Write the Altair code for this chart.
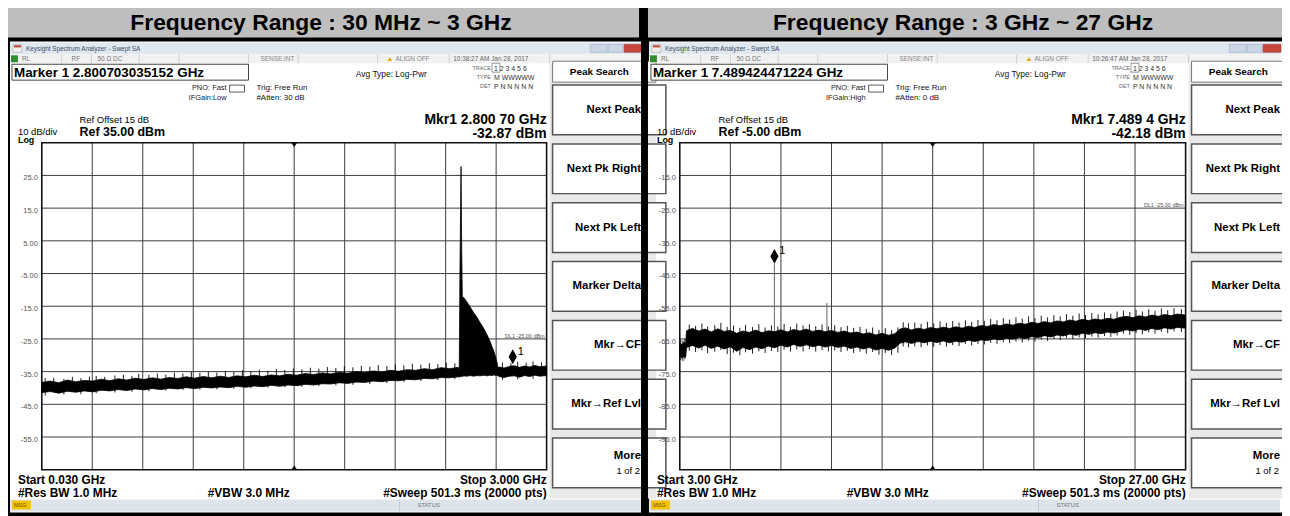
import altair as alt
import pandas as pd

# ------------------------------------------------------------------ data
TITLES = ["Frequency Range : 30 MHz ~ 3 GHz", "Frequency Range : 3 GHz ~ 27 GHz"]

L_FREQ = [0.03, 0.08, 0.13, 0.18, 0.23, 0.28, 0.33, 0.38, 0.43, 0.48, 0.53, 0.58, 0.63, 0.68, 0.73,
          0.78, 0.83, 0.88, 0.93, 0.98, 1.03, 1.08, 1.13, 1.18, 1.23, 1.28, 1.33, 1.38, 1.43, 1.48,
          1.53, 1.58, 1.63, 1.68, 1.73, 1.78, 1.83, 1.88, 1.93, 1.98, 2.03, 2.08, 2.13, 2.18, 2.23,
          2.28, 2.33, 2.38, 2.43, 2.48,
          2.486, 2.490, 2.4935, 2.4965, 2.5005, 2.504, 2.513, 2.53, 2.55, 2.571, 2.59, 2.608, 2.63,
          2.649, 2.665, 2.678, 2.69, 2.70, 2.707, 2.715,
          2.72, 2.75, 2.78, 2.81, 2.84, 2.87, 2.90, 2.93, 2.96, 3.0]
L_HI = [-38.3, -37.9, -38.4, -37.6, -38.1, -37.7, -37.9, -37.3, -37.8, -37.2, -37.6, -37.0, -37.4,
        -36.9, -37.3, -36.8, -37.1, -36.6, -37.0, -36.5, -36.9, -36.4, -36.8, -36.3, -36.6, -36.1,
        -36.5, -36.0, -36.3, -35.8, -36.1, -35.6, -35.9, -35.4, -35.7, -35.2, -35.5, -35.0, -35.3,
        -34.8, -35.1, -34.6, -34.9, -34.4, -34.6, -34.1, -34.4, -33.8, -34.1, -33.7,
        -34.5, -5.0, 13.0, 27.7, 2.0, -12.0, -12.4, -13.6, -15.2, -17.0, -18.4, -20.0, -21.8,
        -23.7, -25.5, -27.3, -28.8, -30.6, -32.0, -33.9,
        -33.6, -33.9, -33.4, -33.2, -33.7, -33.3, -33.6, -33.1, -33.5, -33.3]
L_LO = [-41.4, -41.1, -41.6, -41.0, -41.3, -40.9, -41.2, -40.7, -40.9, -40.5, -40.8, -40.3, -40.6,
        -40.2, -40.5, -40.1, -40.3, -39.9, -40.2, -39.8, -40.0, -39.7, -39.9, -39.5, -39.8, -39.4,
        -39.6, -39.2, -39.5, -39.1, -39.3, -38.9, -39.1, -38.7, -38.8, -38.4, -38.6, -38.2, -38.3,
        -37.9, -38.1, -37.7, -37.8, -37.4, -37.5, -37.1, -37.2, -36.8, -36.9, -36.6,
        -36.7, -36.5, -36.5, -36.5, -36.5, -36.5, -36.3, -36.4, -36.2, -36.4, -36.2, -36.3, -36.1,
        -36.3, -36.1, -36.2, -36.0, -36.2, -36.1, -36.3,
        -36.5, -36.8, -36.4, -36.3, -36.7, -36.2, -36.5, -36.1, -36.4, -36.2]
L_SPK_F = [0.05, 0.10, 0.16, 0.21, 0.26, 0.31, 0.35, 0.40, 0.46, 0.51, 0.56, 0.60, 0.66, 0.71,
           0.76, 0.81, 0.86, 0.91, 0.96, 1.01, 1.06, 1.11, 1.16, 1.21, 1.26, 1.31, 1.36, 1.41,
           1.46, 1.51, 1.56, 1.61, 1.66, 1.71, 1.76, 1.81, 1.86, 1.91, 1.96, 2.01, 2.06, 2.11,
           2.16, 2.21, 2.26, 2.31, 2.36, 2.41, 2.46, 2.74, 2.79, 2.83, 2.88, 2.92, 2.97]
L_SPK_TOP = [-37.0, -36.9, -37.2, -36.6, -37.0, -36.5, -36.3, -36.6, -36.2, -36.0, -36.3, -35.7,
             -36.0, -35.6, -35.9, -35.3, -35.6, -35.1, -35.4, -35.0, -35.3, -34.8, -35.1, -34.6,
             -34.9, -34.4, -34.7, -34.2, -34.5, -34.0, -34.3, -33.8, -34.1, -33.6, -33.9, -33.4,
             -33.7, -33.2, -33.5, -33.0, -33.3, -32.8, -33.1, -32.6, -32.9, -32.4, -32.7, -32.3,
             -32.5, -32.2, -32.4, -32.0, -32.3, -31.9, -32.2]
L_SPK_BOT = [-42.3, -39.0, -42.0, -39.0, -41.9, -39.0, -41.6, -38.8, -41.4, -38.6, -41.2, -38.4,
             -41.0, -38.2, -40.8, -38.0, -40.6, -37.8, -40.5, -37.6, -40.4, -37.5, -40.2, -37.3,
             -40.1, -37.1, -39.9, -36.9, -39.8, -36.7, -39.6, -36.5, -39.4, -36.3, -39.2, -36.1,
             -39.0, -35.9, -38.8, -35.7, -38.5, -35.5, -38.2, -35.3, -37.9, -35.1, -37.6, -34.9,
             -37.3, -37.5, -35.0, -37.4, -35.0, -37.2, -35.0]
L_GRID_F = [0.327, 0.624, 0.921, 1.218, 1.515, 1.812, 2.109, 2.406, 2.703]
L_GRID_DB = [25, 15, 5, -5, -15, -25, -35, -45, -55]
L_GRID_LBL = ["25.0", "15.0", "5.00", "-5.00", "-15.0", "-25.0", "-35.0", "-45.0", "-55.0"]
L_SPAN = [0.03, 3.0]
L_REF = [-65, 35]
L_MKR = [2.800703, -32.87]
L_SIG_F = []
L_SIG_V = []

R_FREQ = [3.00, 3.10, 3.20, 3.28, 3.32, 3.6, 3.9, 4.2, 4.5, 4.8, 5.1, 5.4, 5.7, 6.0, 6.3, 6.6, 6.9,
          7.2, 7.5, 7.8, 8.1, 8.4, 8.7, 9.0, 9.3, 9.6, 9.9, 10.2, 10.5, 10.8, 11.1, 11.4, 11.7,
          12.0, 12.3, 12.6, 12.9, 13.2, 13.45, 13.7, 14.0, 14.3, 14.6, 14.9, 15.2, 15.5, 15.8,
          16.1, 16.4, 16.7, 17.0, 17.3, 17.6, 17.9, 18.2, 18.5, 18.8, 19.1, 19.4, 19.7, 20.0,
          20.3, 20.6, 20.9, 21.2, 21.5, 21.8, 22.1, 22.4, 22.7, 23.0, 23.3, 23.6, 23.9, 24.2,
          24.5, 24.8, 25.1, 25.4, 25.7, 26.0, 26.3, 26.6, 27.0]
R_HI = [-66.3, -66.8, -66.0, -66.5, -62.5, -61.8, -62.6, -62.0, -62.9, -61.9, -62.7, -62.4, -63.3,
        -62.6, -63.0, -62.3, -63.1, -62.5, -62.8, -62.2, -62.9, -62.1, -62.6, -62.0, -62.7, -62.3,
        -62.8, -62.4, -63.0, -62.6, -63.2, -62.9, -63.5, -63.1, -63.8, -63.3, -63.9, -63.4, -62.0,
        -61.6, -62.3, -61.7, -62.1, -61.5, -61.9, -61.4, -61.8, -61.3, -61.7, -61.1, -61.5, -60.9,
        -61.2, -60.6, -61.0, -60.4, -60.8, -60.2, -60.5, -59.9, -60.3, -59.7, -60.1, -59.5, -59.8,
        -59.2, -59.6, -59.0, -59.4, -58.9, -59.2, -58.7, -59.0, -58.4, -58.1, -58.5, -57.9, -58.3,
        -57.7, -58.1, -57.5, -57.9, -57.4, -57.7]
R_LO = [-70.2, -70.8, -70.4, -70.6, -67.6, -67.0, -67.8, -66.9, -67.9, -67.2, -68.1, -67.4, -68.8,
        -67.6, -68.3, -67.5, -68.0, -67.2, -67.7, -66.9, -67.5, -66.7, -67.3, -66.8, -67.4, -66.9,
        -67.5, -67.0, -67.6, -67.2, -67.9, -67.5, -68.1, -67.6, -68.4, -67.9, -68.5, -67.8, -66.3,
        -65.9, -66.4, -65.8, -66.2, -65.7, -66.1, -65.6, -66.2, -65.7, -66.0, -65.4, -65.8, -65.3,
        -65.5, -65.0, -65.3, -64.8, -65.1, -64.6, -64.9, -64.3, -64.6, -64.0, -64.4, -63.8, -64.1,
        -63.5, -63.9, -63.3, -63.6, -63.1, -63.4, -62.9, -63.2, -62.7, -62.2, -62.6, -62.0, -62.4,
        -61.8, -62.2, -61.6, -62.0, -61.5, -61.7]
R_SPK_F = [3.05, 3.15, 3.24, 3.45, 3.75, 4.05, 4.32, 4.66, 4.95, 5.25, 5.55, 5.85, 6.12, 6.45, 6.75,
           7.05, 7.35, 7.65, 7.95, 8.25, 8.55, 8.85, 9.15, 9.45, 9.75, 10.05, 10.35, 10.65, 10.95,
           11.25, 11.55, 11.85, 12.15, 12.45, 12.75, 13.05, 13.35, 13.6, 13.85, 14.15, 14.45,
           14.75, 15.05, 15.35, 15.65, 15.95, 16.25, 16.55, 16.85, 17.15, 17.45, 17.75, 18.05,
           18.35, 18.65, 18.95, 19.25, 19.55, 19.85, 20.15, 20.45, 20.75, 21.05, 21.35, 21.65,
           21.95, 22.25, 22.55, 22.85, 23.15, 23.45, 23.75, 24.05, 24.35, 24.65, 24.95, 25.25,
           25.55, 25.85, 26.15, 26.45, 26.8]
R_SPK_TOP = [-65.2, -65.5, -65.0, -60.6, -61.0, -60.3, -61.2, -60.8, -60.1, -61.3, -60.9, -61.6,
             -60.7, -61.4, -60.5, -61.5, -60.9, -61.2, -60.4, -61.3, -60.3, -60.9, -60.5, -61.1,
             -60.6, -61.2, -60.8, -61.4, -61.0, -61.6, -61.3, -61.9, -61.5, -62.2, -61.7, -62.3,
             -61.5, -59.9, -60.2, -60.0, -60.4, -59.8, -60.2, -59.6, -60.1, -59.5, -60.0, -59.3,
             -59.8, -59.2, -59.5, -58.9, -59.3, -58.6, -59.1, -58.4, -58.8, -58.1, -58.6, -57.9,
             -58.4, -57.7, -58.1, -57.4, -57.9, -57.2, -57.7, -57.1, -57.5, -56.9, -57.3, -56.6,
             -56.3, -56.8, -56.1, -56.6, -55.9, -56.4, -55.7, -56.2, -55.6, -55.9]
R_SPK_BOT = [-71.5, -71.8, -71.2, -68.6, -69.0, -68.5, -69.3, -68.9, -68.4, -69.6, -69.2, -70.0,
             -69.1, -69.5, -68.8, -69.3, -68.7, -69.0, -68.3, -68.9, -68.2, -68.8, -68.1, -68.9,
             -68.4, -68.8, -68.5, -69.0, -68.6, -69.3, -68.9, -69.5, -69.0, -69.8, -69.3, -69.9,
             -69.2, -67.3, -67.6, -67.3, -67.5, -67.0, -67.4, -66.9, -67.4, -66.9, -67.2, -66.6,
             -67.0, -66.5, -66.7, -66.2, -66.5, -66.0, -66.3, -65.8, -66.1, -65.5, -65.8, -65.2,
             -65.6, -65.0, -65.3, -64.7, -65.1, -64.5, -64.8, -64.3, -64.6, -64.1, -64.4, -63.9,
             -63.4, -63.8, -63.2, -63.6, -63.0, -63.4, -62.8, -63.2, -62.7, -62.9]
R_GRID_F = [5.4, 7.8, 10.2, 12.6, 15.0, 17.4, 19.8, 22.2, 24.6]
R_GRID_DB = [-15, -25, -35, -45, -55, -65, -75, -85, -95]
R_GRID_LBL = ["-15.0", "-25.0", "-35.0", "-45.0", "-55.0", "-65.0", "-75.0", "-85.0", "-95.0"]
R_SPAN = [3.0, 27.0]
R_REF = [-105, -5]
R_MKR = [7.489424, -42.18]
R_SIG_F = [7.4894, 9.98]
R_SIG_V = [-42.18, -54.0]

DL_VALUE = -25.0
DL_TEXT = "DL1 -25.00 dBm"

SOFTKEYS = ["Next Peak", "Next Pk Right", "Next Pk Left", "Marker Delta", "Mkr\u2192CF", "Mkr\u2192Ref Lvl"]

INFO = [
    dict(marker="Marker 1 2.800703035152 GHz", ifgain="IFGain:Low", atten="#Atten: 30 dB",
         time="10:38:27 AM Jan 28, 2017", mkr1="Mkr1 2.800 70 GHz", mval="-32.87 dBm",
         ref="Ref 35.00 dBm", start="Start 0.030 GHz", stop="Stop 3.000 GHz"),
    dict(marker="Marker 1 7.489424471224 GHz", ifgain="IFGain:High", atten="#Atten: 0 dB",
         time="10:26:47 AM Jan 28, 2017", mkr1="Mkr1 7.489 4 GHz", mval="-42.18 dBm",
         ref="Ref -5.00 dBm", start="Start 3.00 GHz", stop="Stop 27.00 GHz"),
]

# ------------------------------------------------------------------ helpers
OX, OY = 8, 8
FONT = "Liberation Sans"
GRID = "#3c3c3c"
YT, YB = 142 - OY, 471 - OY


def txt(x, y, s, size=9, bold=False, align="left", color="#000000"):
    return alt.Chart().mark_text(
        text=s, font=FONT, fontSize=size, fontWeight="bold" if bold else "normal",
        align=align, baseline="alphabetic", color=color
    ).encode(x=alt.value(x - OX), y=alt.value(y - OY))


def box(x0, y0, x1, y1, fill="#ffffff", stroke=None, sw=1.0, fo=1.0):
    kw = dict(fill=fill, fillOpacity=fo)
    if stroke is not None:
        kw.update(stroke=stroke, strokeWidth=sw)
    else:
        kw.update(strokeWidth=0)
    return alt.Chart().mark_rect(**kw).encode(
        x=alt.value(x0 - OX), x2=alt.value(x1 - OX), y=alt.value(y0 - OY), y2=alt.value(y1 - OY))


def vline(x, y0, y1, color="#bbbbbb", w=1.0):
    return alt.Chart().mark_rule(color=color, strokeWidth=w).encode(
        x=alt.value(x - OX), y=alt.value(y0 - OY), y2=alt.value(y1 - OY))


DIAMOND = "M0,-2.07L0.55,-1.07L0,-0.07L-0.55,-1.07Z"
TRI_DOWN = "M-1,0L1,0L0,1.4Z"
TRI_UP = "M-1,0L1,0L0,-1.4Z"


def spectrum(freq, hi, lo, spk_f, spk_top, spk_bot, grid_f, grid_db, grid_lbl, span, ref, mkr,
             sig_f, sig_v, xr):
    xs = alt.Scale(domain=span, range=xr, nice=False, zero=False)
    ys = alt.Scale(domain=ref, range=[YB, YT], nice=False, zero=False)

    def X(f):
        return alt.X(f, type="quantitative", scale=xs, axis=None)

    def Y(f):
        return alt.Y(f, type="quantitative", scale=ys, axis=None)

    trace = pd.DataFrame({"f": freq, "hi": hi, "lo": lo})
    hgrid = pd.DataFrame({"db": grid_db, "lbl": grid_lbl})
    hgrid["f0"] = span[0]
    hgrid["f1"] = span[1]
    vgrid = pd.DataFrame({"f": grid_f})
    vgrid["d0"] = ref[0]
    vgrid["d1"] = ref[1]
    frame = pd.DataFrame({"f0": [span[0]], "f1": [span[1]], "d0": [ref[0]], "d1": [ref[1]]})
    spikes = pd.DataFrame({"f": spk_f, "top": spk_top, "bot": spk_bot})
    sigs = pd.DataFrame({"f": sig_f, "v": sig_v})
    mk = pd.DataFrame({"f": [mkr[0]], "v": [mkr[1]]})
    dl = pd.DataFrame({"f": [span[1]], "v": [DL_VALUE], "t": [DL_TEXT]})

    layers = [
        alt.Chart(hgrid).mark_rule(color=GRID, strokeWidth=1).encode(x=X("f0"), x2="f1", y=Y("db")),
        alt.Chart(vgrid).mark_rule(color=GRID, strokeWidth=1).encode(x=X("f"), y=Y("d0"), y2="d1"),
        alt.Chart(hgrid).mark_text(align="right", dx=-4, dy=3, font=FONT, fontSize=7.5,
                                   color="#555555").encode(x=X("f0"), y=Y("db"), text="lbl"),
        alt.Chart(dl).mark_text(align="right", dx=-2, dy=-3, font=FONT, fontSize=5.5,
                                color="#555555").encode(x=X("f"), y=Y("v"), text="t"),
        alt.Chart(frame).mark_rect(fillOpacity=0, stroke="#111111", strokeWidth=1.6).encode(
            x=X("f0"), x2="f1", y=Y("d0"), y2="d1"),
        alt.Chart(frame).transform_calculate(fc="(datum.f0 + datum.f1) / 2").mark_point(
            shape=TRI_DOWN, filled=True, color="#111111", size=36, opacity=1).encode(
            x=X("fc"), y=Y("d1")),
        alt.Chart(frame).transform_calculate(fc="(datum.f0 + datum.f1) / 2").mark_point(
            shape=TRI_UP, filled=True, color="#111111", size=36, opacity=1).encode(
            x=X("fc"), y=Y("d0")),
        alt.Chart(sigs).mark_rule(color="#666666", strokeWidth=1).encode(
            x=X("f"), y=Y("v"), y2=alt.Y2(datum=ref[0] + 38)),
        alt.Chart(trace).mark_area(color="#000000", stroke="#000000", strokeWidth=0.8,
                                   interpolate="linear").encode(x=X("f"), y=Y("hi"), y2="lo"),
        alt.Chart(spikes).mark_rule(color="#000000", strokeWidth=0.9).encode(
            x=X("f"), y=Y("top"), y2="bot"),
        alt.Chart(mk).mark_point(shape=DIAMOND, filled=True, color="#000000", size=225,
                                 opacity=1).encode(x=X("f"), y=Y("v")),
        alt.Chart(mk).mark_text(text="1", align="left", dx=5, dy=-13, font=FONT,
                                fontSize=11).encode(x=X("f"), y=Y("v")),
    ]
    return alt.layer(*layers)


def chrome(d, info):
    L = []
    # window title bar
    L.append(box(10 + d, 41, 645 + d, 53, fill="#dfe7f1"))
    L.append(box(13 + d, 43, 22 + d, 51, fill="#eeeeee", stroke="#999999", sw=0.5))
    L.append(box(14 + d, 44, 21 + d, 46, fill="#c0392b"))
    L.append(txt(26 + d, 50, "Keysight Spectrum Analyzer - Swept SA", 6.5, color="#3d4b63"))
    L.append(box(594 + d, 43, 611 + d, 51, fill="#cbd7e6", stroke="#94a6bf", sw=0.5))
    L.append(box(612 + d, 43, 627 + d, 51, fill="#cbd7e6", stroke="#94a6bf", sw=0.5))
    L.append(box(628 + d, 43, 646 + d, 51, fill="#c8473c", stroke="#8a2a22", sw=0.5))
    # status row
    L.append(box(10 + d, 53, 645 + d, 62, fill="#f1f1f1"))
    L.append(box(11 + d, 54, 18 + d, 61, fill="#2f8f2f"))
    for sx in [62, 92, 140, 180, 250, 300, 380, 452, 553]:
        L.append(vline(sx + d, 53, 62, "#c8c8c8", 0.8))
    L.append(txt(22 + d, 60, "RL", 6.5, color="#777777"))
    L.append(txt(72 + d, 60, "RF", 6.5, color="#777777"))
    L.append(txt(98 + d, 60, "50 \u03a9   DC", 6.5, color="#777777"))
    L.append(txt(262 + d, 60, "SENSE:INT", 6.5, color="#888888"))
    L.append(txt(389 + d, 60, "\u25b2", 7, color="#e0a800"))
    L.append(txt(398 + d, 60, "ALIGN OFF", 6.5, color="#888888"))
    L.append(txt(456 + d, 60, info["time"], 6.5, color="#666666"))
    # marker readout box
    L.append(box(12 + d, 63, 250 + d, 79, fill="#ffffff", stroke="#444444", sw=1))
    L.append(txt(14 + d, 76, info["marker"], 13.5, bold=True))
    L.append(txt(228 + d, 89, "PNO: Fast", 7.5, align="right", color="#222222"))
    L.append(box(231 + d, 84, 246 + d, 91, fill="#ffffff", stroke="#333333", sw=0.8))
    L.append(txt(228 + d, 99, info["ifgain"], 7.5, align="right", color="#222222"))
    L.append(txt(258 + d, 89, "Trig: Free Run", 8, color="#111111"))
    L.append(txt(258 + d, 99, info["atten"], 8, color="#111111"))
    L.append(txt(358 + d, 76, "Avg Type: Log-Pwr", 8.5, color="#111111"))
    L.append(txt(494 + d, 69, "TRACE", 5.5, align="right", color="#666666"))
    L.append(txt(494 + d, 78, "TYPE", 5.5, align="right", color="#666666"))
    L.append(txt(494 + d, 87, "DET", 5.5, align="right", color="#666666"))
    L.append(box(495 + d, 62, 503 + d, 71, fill="#ffffff", stroke="#555555", sw=0.6))
    L.append(txt(497 + d, 70, "1  2  3  4  5  6", 7, color="#333333"))
    L.append(txt(497 + d, 79, "M WWWWW", 7, color="#333333"))
    L.append(txt(497 + d, 88, "P  N N N N N", 7, color="#333333"))
    # reference / marker values
    L.append(txt(80 + d, 122, "Ref Offset 15 dB", 9.5))
    L.append(txt(18 + d, 134, "10 dB/div", 9.5))
    L.append(txt(80 + d, 135, info["ref"], 12.5, bold=True))
    L.append(txt(18 + d, 142, "Log", 9, bold=True))
    L.append(txt(550 + d, 123, info["mkr1"], 14, bold=True, align="right"))
    L.append(txt(550 + d, 137, info["mval"], 14, bold=True, align="right"))
    # soft keys
    L.append(box(553 + d, 62, 660 + d, 500, fill="#e9e9e9"))
    L.append(box(556 + d, 60, 660 + d, 81, fill="#ffffff", stroke="#777777", sw=1))
    L.append(txt(603 + d, 74, "Peak Search", 10, bold=True, align="center"))
    for i in range(7):
        y0 = 84 + i * 59.2
        L.append(box(556 + d, y0, 670 + d, y0 + 50, fill="#ffffff", stroke="#555555", sw=1.5))
    for i, k in enumerate(SOFTKEYS):
        y0 = 84 + i * 59.2
        L.append(txt(645 + d, y0 + 28, k, 11.5, bold=True, align="right"))
    L.append(txt(645 + d, 460, "More", 11.5, bold=True, align="right"))
    L.append(txt(644 + d, 475, "1 of 2", 9.5, align="right"))
    # bottom annotations
    L.append(txt(18 + d, 485, info["start"], 12, bold=True))
    L.append(txt(550 + d, 485, info["stop"], 12, bold=True, align="right"))
    L.append(txt(18 + d, 498, "#Res BW 1.0 MHz", 12, bold=True))
    L.append(txt(209 + d, 498, "#VBW 3.0 MHz", 12, bold=True))
    L.append(txt(550 + d, 498, "#Sweep  501.3 ms (20000 pts)", 12, bold=True, align="right"))
    # status bar
    L.append(box(10 + d, 501, 645 + d, 513, fill="#dde4ec"))
    L.append(box(12 + d, 502, 31 + d, 511, fill="#f3c300"))
    L.append(txt(14 + d, 509, "MSG", 5.5, color="#6b5500"))
    L.append(vline(402 + d, 501, 513, "#b9c3cf", 0.8))
    L.append(txt(420 + d, 509, "STATUS", 6, color="#777777"))
    return L


# ------------------------------------------------------------------ assemble
layers = []
layers.append(box(6, 3, 643, 36, fill="#bebebe"))
layers.append(box(652, 3, 1292, 36, fill="#bebebe"))
layers.append(txt(323, 29, TITLES[0], 23, bold=True, align="center"))
layers.append(txt(969, 29, TITLES[1], 23, bold=True, align="center"))
layers.append(box(10, 40, 645, 514, fill="#ffffff"))
layers.append(box(653, 40, 1292, 514, fill="#ffffff"))
layers += chrome(0, INFO[0])
layers += chrome(643, INFO[1])

left = spectrum(L_FREQ, L_HI, L_LO, L_SPK_F, L_SPK_TOP, L_SPK_BOT, L_GRID_F, L_GRID_DB,
                L_GRID_LBL, L_SPAN, L_REF, L_MKR, L_SIG_F, L_SIG_V, [42 - OX, 550 - OX])
right = spectrum(R_FREQ, R_HI, R_LO, R_SPK_F, R_SPK_TOP, R_SPK_BOT, R_GRID_F, R_GRID_DB,
                 R_GRID_LBL, R_SPAN, R_REF, R_MKR, R_SIG_F, R_SIG_V, [684 - OX, 1193 - OX])
layers += [left, right]
# black divider between the two screenshots
layers.append(box(645, 36, 652, 516, fill="#000000"))

chart = alt.layer(*layers).resolve_scale(x="independent", y="independent").properties(
    width=1282, height=508, padding=0, background="#000000",
    autosize=alt.AutoSizeParams(type="none"),
).configure_view(strokeWidth=0)

chart.save("out.html", embed_options={"renderer": "svg", "actions": False})
